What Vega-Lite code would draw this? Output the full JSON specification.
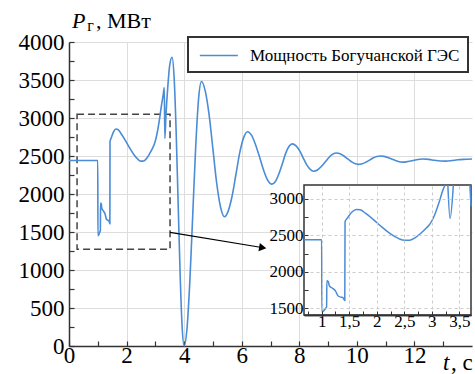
{
  "$schema": "https://vega.github.io/schema/vega-lite/v6.json",
  "width": 403,
  "height": 304,
  "autosize": {"type": "none"},
  "padding": {"left": 69, "top": 42, "right": 3, "bottom": 28},
  "background": "white",
  "config": {
    "view": {"stroke": null},
    "font": "Times New Roman",
    "legend": {"strokeWidth": 2}
  },
  "datasets": {
    "main": [
      {"t": 0, "p": 2440}, {"t": 0.5, "p": 2440}, {"t": 1.0, "p": 2440}, {"t": 1.005, "p": 1450},
      {"t": 1.04, "p": 1470}, {"t": 1.08, "p": 1510}, {"t": 1.09, "p": 1520}, {"t": 1.095, "p": 1880},
      {"t": 1.12, "p": 1870}, {"t": 1.14, "p": 1810}, {"t": 1.2, "p": 1775}, {"t": 1.25, "p": 1740},
      {"t": 1.3, "p": 1670}, {"t": 1.35, "p": 1655}, {"t": 1.39, "p": 1645}, {"t": 1.42, "p": 1610},
      {"t": 1.425, "p": 2690}, {"t": 1.47, "p": 2740}, {"t": 1.55, "p": 2820}, {"t": 1.63, "p": 2856},
      {"t": 1.7, "p": 2850}, {"t": 1.8, "p": 2800}, {"t": 1.95, "p": 2710}, {"t": 2.1, "p": 2610},
      {"t": 2.25, "p": 2520}, {"t": 2.4, "p": 2455}, {"t": 2.5, "p": 2432}, {"t": 2.6, "p": 2435},
      {"t": 2.7, "p": 2470}, {"t": 2.8, "p": 2530}, {"t": 2.9, "p": 2600}, {"t": 2.97, "p": 2660},
      {"t": 3.05, "p": 2780}, {"t": 3.13, "p": 2950}, {"t": 3.21, "p": 3160}, {"t": 3.27, "p": 3300},
      {"t": 3.31, "p": 3400}, {"t": 3.33, "p": 2730}, {"t": 3.37, "p": 3050}, {"t": 3.43, "p": 3400},
      {"t": 3.5, "p": 3700}, {"t": 3.58, "p": 3800}, {"t": 3.65, "p": 3545}, {"t": 3.72, "p": 2850},
      {"t": 3.79, "p": 1900}, {"t": 3.86, "p": 950}, {"t": 3.93, "p": 255}, {"t": 4.0, "p": 0},
      {"t": 4.1, "p": 233}, {"t": 4.2, "p": 870}, {"t": 4.3, "p": 1740}, {"t": 4.4, "p": 2610},
      {"t": 4.5, "p": 3247}, {"t": 4.6, "p": 3480}, {"t": 4.73, "p": 3361}, {"t": 4.87, "p": 3035},
      {"t": 5.0, "p": 2590}, {"t": 5.13, "p": 2145}, {"t": 5.27, "p": 1819}, {"t": 5.4, "p": 1700},
      {"t": 5.53, "p": 1775}, {"t": 5.67, "p": 1980}, {"t": 5.8, "p": 2260}, {"t": 5.93, "p": 2540},
      {"t": 6.07, "p": 2745}, {"t": 6.2, "p": 2820}, {"t": 6.34, "p": 2774}, {"t": 6.48, "p": 2648},
      {"t": 6.63, "p": 2475}, {"t": 6.77, "p": 2303}, {"t": 6.91, "p": 2176}, {"t": 7.05, "p": 2130},
      {"t": 7.17, "p": 2165}, {"t": 7.29, "p": 2263}, {"t": 7.41, "p": 2395}, {"t": 7.52, "p": 2528},
      {"t": 7.64, "p": 2625}, {"t": 7.76, "p": 2660}, {"t": 7.88, "p": 2636}, {"t": 8.01, "p": 2570},
      {"t": 8.13, "p": 2480}, {"t": 8.25, "p": 2390}, {"t": 8.38, "p": 2324}, {"t": 8.5, "p": 2300},
      {"t": 8.63, "p": 2316}, {"t": 8.76, "p": 2360}, {"t": 8.9, "p": 2420}, {"t": 9.03, "p": 2480},
      {"t": 9.16, "p": 2524}, {"t": 9.29, "p": 2540}, {"t": 9.42, "p": 2530}, {"t": 9.54, "p": 2503},
      {"t": 9.67, "p": 2465}, {"t": 9.8, "p": 2428}, {"t": 9.92, "p": 2400}, {"t": 10.05, "p": 2390},
      {"t": 10.18, "p": 2397}, {"t": 10.31, "p": 2418}, {"t": 10.44, "p": 2445}, {"t": 10.56, "p": 2473},
      {"t": 10.69, "p": 2493}, {"t": 10.82, "p": 2500}, {"t": 10.95, "p": 2495}, {"t": 11.08, "p": 2480},
      {"t": 11.21, "p": 2460}, {"t": 11.34, "p": 2440}, {"t": 11.47, "p": 2425}, {"t": 11.6, "p": 2420},
      {"t": 11.72, "p": 2423}, {"t": 11.83, "p": 2430}, {"t": 11.95, "p": 2440}, {"t": 12.07, "p": 2450},
      {"t": 12.18, "p": 2457}, {"t": 12.3, "p": 2460}, {"t": 12.5, "p": 2455}, {"t": 12.7, "p": 2443},
      {"t": 12.9, "p": 2434}, {"t": 13.1, "p": 2433}, {"t": 13.3, "p": 2440}, {"t": 13.5, "p": 2450},
      {"t": 13.7, "p": 2456}, {"t": 14.0, "p": 2460}
    ],
    "inset": [
      {"seg": "a", "t": 0.68, "p": 2440}, {"seg": "a", "t": 1.0, "p": 2440}, {"seg": "a", "t": 1.005, "p": 1450},
      {"seg": "a", "t": 1.04, "p": 1470}, {"seg": "a", "t": 1.08, "p": 1510}, {"seg": "a", "t": 1.09, "p": 1520},
      {"seg": "a", "t": 1.095, "p": 1880}, {"seg": "a", "t": 1.12, "p": 1870}, {"seg": "a", "t": 1.14, "p": 1810},
      {"seg": "a", "t": 1.2, "p": 1775}, {"seg": "a", "t": 1.25, "p": 1740}, {"seg": "a", "t": 1.3, "p": 1670},
      {"seg": "a", "t": 1.35, "p": 1655}, {"seg": "a", "t": 1.39, "p": 1645}, {"seg": "a", "t": 1.42, "p": 1610},
      {"seg": "a", "t": 1.425, "p": 2690}, {"seg": "a", "t": 1.47, "p": 2740}, {"seg": "a", "t": 1.55, "p": 2820},
      {"seg": "a", "t": 1.63, "p": 2856}, {"seg": "a", "t": 1.7, "p": 2850}, {"seg": "a", "t": 1.8, "p": 2800},
      {"seg": "a", "t": 1.95, "p": 2710}, {"seg": "a", "t": 2.1, "p": 2610}, {"seg": "a", "t": 2.25, "p": 2520},
      {"seg": "a", "t": 2.4, "p": 2455}, {"seg": "a", "t": 2.5, "p": 2432}, {"seg": "a", "t": 2.6, "p": 2435},
      {"seg": "a", "t": 2.7, "p": 2470}, {"seg": "a", "t": 2.8, "p": 2530}, {"seg": "a", "t": 2.9, "p": 2600},
      {"seg": "a", "t": 2.97, "p": 2660}, {"seg": "a", "t": 3.05, "p": 2780}, {"seg": "a", "t": 3.13, "p": 2950},
      {"seg": "a", "t": 3.2, "p": 3120}, {"seg": "a", "t": 3.24, "p": 3190},
      {"seg": "b", "t": 3.29, "p": 3190}, {"seg": "b", "t": 3.33, "p": 2730}, {"seg": "b", "t": 3.39, "p": 3190},
      {"seg": "c", "t": 3.69, "p": 3190}, {"seg": "c", "t": 3.71, "p": 2900}
    ]
  },
  "layer": [
    {
      "layer": [
        {
          "data": {"values": [{}]},
          "mark": {"type": "rect", "fill": null, "stroke": "#444444", "strokeWidth": 1.5, "strokeDash": [7, 4]},
          "encoding": {
            "x": {"datum": 0.28, "type": "quantitative", "title": null},
            "x2": {"datum": 3.51},
            "y": {"datum": 1272, "type": "quantitative", "title": null},
            "y2": {"datum": 3049}
          }
        },
        {
          "data": {"name": "main"},
          "mark": {"type": "line", "strokeWidth": 1.6, "interpolate": "monotone"},
          "encoding": {
            "x": {
              "field": "t", "type": "quantitative",
              "scale": {"domain": [0, 14], "nice": false, "zero": false},
              "axis": {
                "orient": "bottom",
                "title": null,
                "values": [0, 2, 4, 6, 8, 10, 12],
                "format": "d",
                "labelFlush": false,
                "labelFontSize": 23,
                "labelColor": "black",
                "labelPadding": 3,
                "tickSize": -5,
                "tickColor": "#333333",
                "tickWidth": 1.2,
                "domainColor": "#333333",
                "domainWidth": 1.5,
                "grid": true,
                "gridColor": "#dddddd",
                "gridWidth": 1,
                "zindex": 0
              }
            },
            "y": {
              "field": "p", "type": "quantitative",
              "scale": {"domain": [0, 4000], "nice": false},
              "axis": {
                "orient": "left",
                "title": null,
                "values": [0, 1000, 2000, 3000, 4000],
                "format": "d",
                "labelFontSize": 23,
                "labelColor": "black",
                "labelPadding": 10,
                "tickSize": -5,
                "tickColor": "#333333",
                "tickWidth": 1.2,
                "domainColor": "#333333",
                "domainWidth": 1.5,
                "grid": true,
                "gridColor": "#dddddd",
                "gridWidth": 1,
                "zindex": 0
              }
            },
            "color": {
              "datum": "Мощность Богучанской ГЭС",
              "type": "nominal",
              "scale": {"range": ["#4a8cd6"]},
              "legend": {
                "title": null,
                "orient": "none",
                "legendX": 119,
                "legendY": -5,
                "padding": 8,
                "strokeColor": "#333333",
                "fillColor": "white",
                "symbolType": "M-0.7,0H3.3",
                "symbolSize": 361,
                "symbolStrokeWidth": 1.6,
                "labelFontSize": 17,
                "labelColor": "black",
                "labelOffset": 33,
                "labelLimit": 400
              }
            }
          }
        },
        {
          "data": {"values": [{}]},
          "mark": {"type": "rule", "color": "black", "strokeWidth": 1.2},
          "encoding": {
            "x": {"datum": 3.51, "type": "quantitative", "title": null},
            "y": {"datum": 1496, "type": "quantitative", "title": null},
            "x2": {"datum": 6.75},
            "y2": {"datum": 1293}
          }
        },
        {
          "data": {"values": [{}]},
          "mark": {"type": "point", "shape": "triangle-right", "filled": true, "color": "black", "size": 70, "angle": 9.4, "opacity": 1},
          "encoding": {
            "x": {"datum": 6.73, "type": "quantitative", "title": null},
            "y": {"datum": 1294, "type": "quantitative", "title": null}
          }
        },
        {
          "data": {"values": [{}]},
          "mark": {"type": "text", "text": "P", "fontStyle": "italic", "fontSize": 22, "align": "left", "baseline": "alphabetic", "color": "black"},
          "encoding": {
            "x": {"datum": 0.1, "type": "quantitative", "title": null},
            "y": {"datum": 4180, "type": "quantitative", "title": null}
          }
        },
        {
          "data": {"values": [{}]},
          "mark": {"type": "text", "text": "г", "fontSize": 16, "align": "left", "baseline": "alphabetic", "color": "black"},
          "encoding": {
            "x": {"datum": 0.63, "type": "quantitative", "title": null},
            "y": {"datum": 4140, "type": "quantitative", "title": null}
          }
        },
        {
          "data": {"values": [{}]},
          "mark": {"type": "text", "text": ", МВт", "fontSize": 22, "align": "left", "baseline": "alphabetic", "color": "black"},
          "encoding": {
            "x": {"datum": 0.94, "type": "quantitative", "title": null},
            "y": {"datum": 4180, "type": "quantitative", "title": null}
          }
        },
        {
          "data": {"values": [{}]},
          "mark": {"type": "text", "text": "t", "fontStyle": "italic", "fontSize": 23, "align": "left", "baseline": "alphabetic", "color": "black"},
          "encoding": {
            "x": {"datum": 12.99, "type": "quantitative", "title": null},
            "y": {"datum": -310, "type": "quantitative", "title": null}
          }
        },
        {
          "data": {"values": [{}]},
          "mark": {"type": "text", "text": ", c", "fontSize": 23, "align": "left", "baseline": "alphabetic", "color": "black"},
          "encoding": {
            "x": {"datum": 13.27, "type": "quantitative", "title": null},
            "y": {"datum": -310, "type": "quantitative", "title": null}
          }
        }
      ]
    },
    {
      "data": {"name": "main"},
      "mark": {"type": "line", "strokeOpacity": 0},
      "encoding": {
        "x": {
          "field": "t", "type": "quantitative",
          "scale": {"domain": [0, 14], "nice": false, "zero": false},
          "axis": {
            "orient": "bottom",
            "title": null,
            "values": [1, 3, 5, 7, 9, 11, 13],
            "labels": false,
            "domain": false,
            "grid": false,
            "tickSize": -5,
            "tickColor": "#333333",
            "tickWidth": 1.2,
            "zindex": 0
          }
        },
        "y": {
          "field": "p", "type": "quantitative",
          "scale": {"domain": [0, 4000], "nice": false},
          "axis": {
            "orient": "left",
            "title": null,
            "values": [500, 1500, 2500, 3500],
            "format": "d",
            "labelFontSize": 23,
            "labelColor": "black",
            "labelPadding": 10,
            "domain": false,
            "tickSize": -5,
            "tickColor": "#333333",
            "tickWidth": 1.2,
            "grid": true,
            "gridColor": "#dddddd",
            "gridWidth": 1,
            "zindex": 0
          }
        }
      }
    },
    {
      "data": {"name": "main"},
      "mark": {"type": "line", "strokeOpacity": 0},
      "encoding": {
        "x": {
          "field": "t", "type": "quantitative",
          "scale": {"domain": [0, 14], "nice": false, "zero": false},
          "axis": null
        },
        "y": {
          "field": "p", "type": "quantitative",
          "scale": {"domain": [0, 4000], "nice": false},
          "axis": {
            "orient": "left",
            "title": null,
            "values": [250, 750, 1250, 1750, 2250, 2750, 3250, 3750],
            "labels": false,
            "domain": false,
            "grid": false,
            "tickSize": -5,
            "tickColor": "#333333",
            "tickWidth": 1.2,
            "zindex": 0
          }
        }
      }
    },
    {
      "layer": [
        {
          "data": {"values": [{}]},
          "mark": {"type": "rect", "fill": "white", "stroke": null},
          "encoding": {
            "x": {"datum": 0.68, "type": "quantitative", "title": null},
            "x2": {"datum": 3.71},
            "y": {"datum": 1068, "type": "quantitative", "title": null},
            "y2": {"datum": 3190}
          }
        },
        {
          "data": {"values": [{}]},
          "mark": {"type": "rect", "fill": "white", "stroke": "#333333", "strokeWidth": 1.5},
          "encoding": {
            "x": {"datum": 0.68, "type": "quantitative", "title": null},
            "x2": {"datum": 3.71},
            "y": {"datum": 1410, "type": "quantitative", "title": null},
            "y2": {"datum": 3190}
          }
        },
        {
          "data": {"name": "inset"},
          "mark": {"type": "line", "strokeWidth": 1.5, "color": "#4a8cd6", "interpolate": "monotone"},
          "encoding": {
            "detail": {"field": "seg", "type": "nominal"},
            "x": {
              "field": "t", "type": "quantitative",
              "scale": {"domain": [0.68, 3.71], "range": [235, 402], "nice": false, "zero": false},
              "axis": {
                "orient": "bottom",
                "offset": -31,
                "title": null,
                "values": [1, 1.5, 2, 2.5, 3, 3.5],
                "labelExpr": "replace('' + datum.value, '.', ',')",
                "labelFontSize": 17,
                "tickSize": -4,
                "tickColor": "#333333",
                "domain": true,
                "domainColor": "#333333",
                "domainWidth": 1.5,
                "grid": false,
                "zindex": 1
              }
            },
            "y": {
              "field": "p", "type": "quantitative",
              "scale": {"domain": [1410, 3190], "range": [273, 143], "nice": false, "zero": false},
              "axis": {
                "orient": "left",
                "offset": -235,
                "title": null,
                "values": [1500],
                "format": "d",
                "labelFontSize": 17,
                "labelColor": "black",
                "labelPadding": 5,
                "tickSize": -4,
                "tickColor": "#333333",
                "domain": false,
                "grid": true,
                "gridColor": "#cccccc",
                "gridDash": [3, 3],
                "zindex": 1
              }
            }
          }
        }
      ]
    },
    {
      "data": {"name": "inset"},
      "mark": {"type": "line", "strokeOpacity": 0},
      "encoding": {
        "detail": {"field": "seg", "type": "nominal"},
        "x": {
          "field": "t", "type": "quantitative",
          "scale": {"domain": [0.68, 3.71], "range": [235, 402], "nice": false, "zero": false},
          "axis": {
            "orient": "top",
            "title": null,
            "values": [1, 1.5, 2, 2.5, 3, 3.5],
            "labels": false,
            "ticks": false,
            "domain": false,
            "grid": true,
            "gridColor": "#cccccc",
            "gridDash": [3, 3],
            "zindex": 1
          }
        },
        "y": {
          "field": "p", "type": "quantitative",
          "scale": {"domain": [1410, 3190], "range": [273, 143], "nice": false, "zero": false},
          "axis": {
            "orient": "left",
            "offset": -235,
            "title": null,
            "values": [1750, 2250, 2750],
            "labels": false,
            "domain": false,
            "grid": false,
            "tickSize": -4,
            "tickColor": "#333333",
            "zindex": 1
          }
        }
      }
    },
    {
      "data": {"name": "inset"},
      "mark": {"type": "line", "strokeOpacity": 0},
      "encoding": {
        "detail": {"field": "seg", "type": "nominal"},
        "x": {
          "field": "t", "type": "quantitative",
          "scale": {"domain": [0.68, 3.71], "range": [235, 402], "nice": false, "zero": false},
          "axis": {
            "orient": "bottom",
            "offset": -31,
            "title": null,
            "values": [0.75, 1.25, 1.75, 2.25, 2.75, 3.25],
            "labels": false,
            "domain": true,
            "domainColor": "#333333",
            "domainWidth": 1.5,
            "grid": false,
            "tickSize": -4,
            "tickColor": "#333333",
            "zindex": 1
          }
        },
        "y": {
          "field": "p", "type": "quantitative",
          "scale": {"domain": [1410, 3190], "range": [273, 143], "nice": false, "zero": false},
          "axis": {
            "orient": "left",
            "offset": -235,
            "title": null,
            "values": [2000, 3000],
            "format": "d",
            "labelFontSize": 17,
            "labelColor": "black",
            "labelPadding": 5,
            "tickSize": -4,
            "tickColor": "#333333",
            "domain": false,
            "grid": true,
            "gridColor": "#cccccc",
            "gridDash": [3, 3],
            "zindex": 1
          }
        }
      }
    },
    {
      "data": {"name": "inset"},
      "mark": {"type": "line", "strokeOpacity": 0},
      "encoding": {
        "detail": {"field": "seg", "type": "nominal"},
        "x": {
          "field": "t", "type": "quantitative",
          "scale": {"domain": [0.68, 3.71], "range": [235, 402], "nice": false, "zero": false},
          "axis": null
        },
        "y": {
          "field": "p", "type": "quantitative",
          "scale": {"domain": [1410, 3190], "range": [273, 143], "nice": false, "zero": false},
          "axis": {
            "orient": "left",
            "offset": -235,
            "title": null,
            "values": [2500],
            "labelExpr": "'2500'",
            "labelFontSize": 17,
            "labelColor": "black",
            "labelPadding": 5,
            "labelBound": false,
            "tickSize": -4,
            "tickColor": "#333333",
            "domain": false,
            "grid": true,
            "gridColor": "#cccccc",
            "gridDash": [3, 3],
            "zindex": 2
          }
        }
      }
    }
  ],
  "resolve": {
    "scale": {"x": "independent", "y": "independent"},
    "axis": {"x": "independent", "y": "independent"}
  }
}
